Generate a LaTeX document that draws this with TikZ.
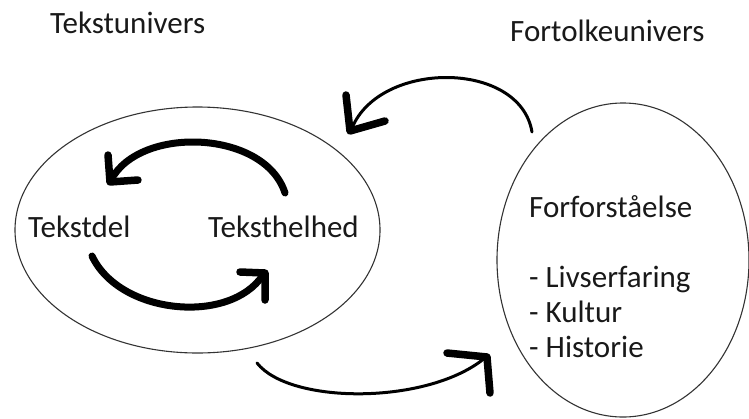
\documentclass[tikz,border=0pt]{standalone}
\usepackage{fontspec}
\setmainfont{Carlito}
\usetikzlibrary{shapes.geometric}
\begin{document}
\begin{tikzpicture}[x=1pt,y=-1pt,
  lbl/.style={anchor=base west,inner sep=0pt,font=\fontsize{31}{37}\selectfont,text=black!90},
  rim/.style={draw=black!80,line width=1.1pt,shape=ellipse,inner sep=0pt},
  thincurve/.style={line width=3pt,line cap=round,line join=round},
  thickcurve/.style={line width=7pt,line cap=round,line join=round},
  headstroke/.style={line width=7.5pt,line cap=round,line join=round}]
\useasboundingbox (0,0) rectangle (749,418);
% ellipses
\node[rim,minimum width=365pt,minimum height=246pt] (tu) at (197.5,230) {};
\node[rim,minimum width=252pt,minimum height=314pt] (fu) at (623,260) {};
% labels
\node[lbl] (ttu) at (50,33) {Tekstunivers};
\node[lbl] (tfu) at (510,41) {Fortolkeunivers};
\node[lbl] (del) at (28,237) {Tekstdel};
\node[lbl] (hel) at (208,237) {Teksthelhed};
\node[lbl] (ff) at (529,217) {Forforståelse};
\node[lbl] (l1) at (529,287) {- Livserfaring};
\node[lbl] (l2) at (529,322) {- Kultur};
\node[lbl] (l3) at (529,357) {- Historie};
% connector end points
\coordinate (a1s) at (532,132);
\coordinate (a1e) at (352,128);
\coordinate (a2s) at (285,193);
\coordinate (a2e) at (111,180);
\coordinate (a3s) at (92,256);
\coordinate (a3e) at (263,275);
\coordinate (a4s) at (257,363);
\coordinate (a4e) at (486,357);
% top outer arrow
\draw[thincurve] (a1s) .. controls (520,60) and (380,60) .. (a1e);
\draw[headstroke] (346,95) -- (350,131) -- (385,121);
% inner top arrow
\draw[thickcurve] (a2s) .. controls (265,130) and (140,125) .. (a2e);
\draw[headstroke] (108,155) -- (110,182) -- (138,180);
% inner bottom arrow
\draw[thickcurve] (a3s) .. controls (120,315) and (230,325) .. (a3e);
\draw[headstroke] (240,272) -- (265,273) -- (265,300);
% bottom outer arrow
\draw[thincurve] (a4s) .. controls (290,405) and (430,405) .. (a4e);
\draw[headstroke] (447,353) -- (487,357) -- (490,393);
\end{tikzpicture}
\end{document}
